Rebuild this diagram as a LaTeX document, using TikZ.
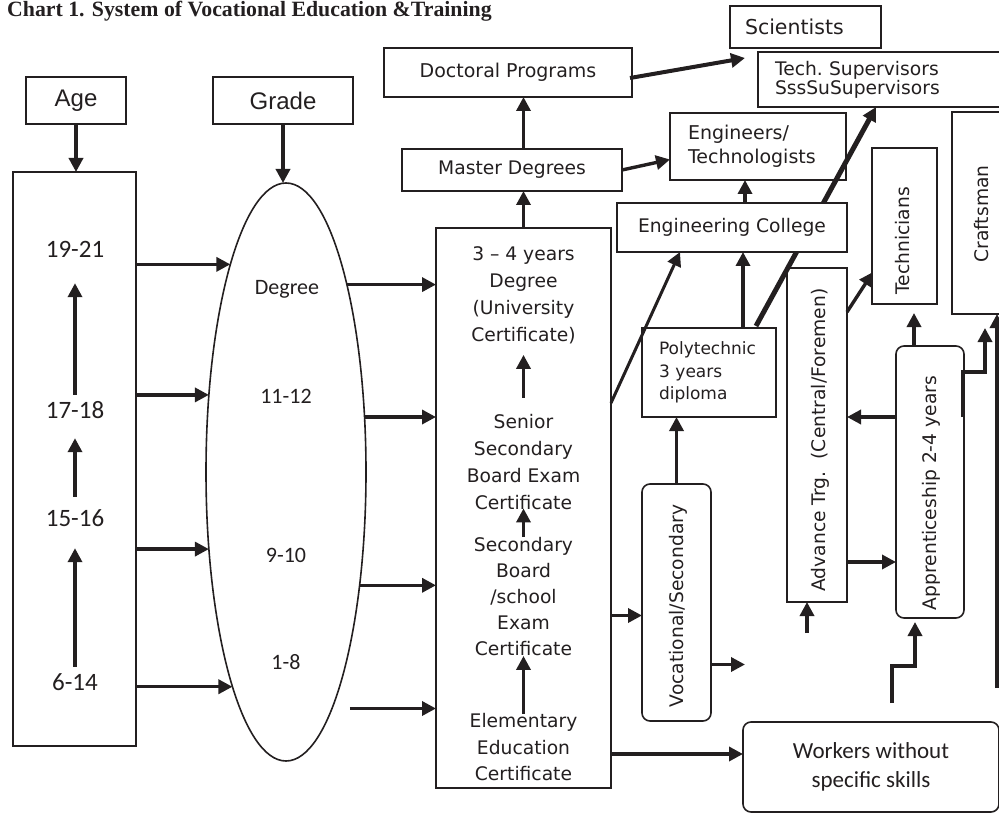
\documentclass[tikz,border=0pt]{standalone}
\usepackage{fontspec}
\setmainfont{DejaVu Sans}
\newfontfamily\calfont{Carlito}
\newfontfamily\arialfont{Liberation Sans}
\newfontfamily\timesfont{Liberation Serif}
\usetikzlibrary{arrows.meta,
  calc,
  positioning,
  backgrounds,
  shapes.geometric
}
\definecolor{ink}{HTML}{231F20}

\begin{document}
\begin{tikzpicture}[x=1pt,y=-1pt,
  box/.style={draw=ink,line width=1.6pt,inner sep=0pt,outer sep=0pt,text=ink,
    align=center,font=\fontsize{18.7}{27}\selectfont},
  soft/.style={box,rounded corners=8pt},
  txt/.style={text=ink,inner sep=0pt,align=center,font=\fontsize{18.7}{27}\selectfont},
  agelbl/.style={text=ink,inner sep=0pt,font=\calfont\fontsize{25}{25}\selectfont,
    text height=16pt,text depth=0pt},
  grdlbl/.style={text=ink,inner sep=0pt,font=\calfont\fontsize{22}{22}\selectfont},
  arr/.style={draw=ink,line width=3.4pt,-{Triangle[length=14pt,width=14pt]}}
]
  \clip (0,0) rectangle (999,813);

  \node[anchor=base west,inner sep=0pt,text=ink,
    font=\timesfont\bfseries\fontsize{21.8}{22}\selectfont] (title) at (7,17)
    {Chart 1. System of Vocational Education \&Training};

  % left side: age and grade
  \node[box,font=\arialfont\fontsize{24}{24}\selectfont,
    minimum width=100pt,minimum height=47pt] (age) at (76,100.5) {Age};
  \node[box,font=\arialfont\fontsize{24}{24}\selectfont,
    minimum width=140pt,minimum height=47pt] (grade) at (283,100.5) {Grade};
  \node[box,minimum width=123pt,minimum height=574pt] (agecol) at (74.5,459) {};
  \node[box,ellipse,minimum width=160pt,minimum height=578pt] (grd) at (286,472) {};

  \node[agelbl] (a1921) at (75,250) {19-21};
  \node[agelbl] (a1718) at (75,410) {17-18};
  \node[agelbl] (a1516) at (75,518) {15-16};
  \node[agelbl] (a614) at (75,682) {6-14};

  \node[grdlbl] (gDeg) at (287,289) {Degree};
  \node[grdlbl] (g1112) at (286,396) {11-12};
  \node[grdlbl] (g910) at (286,555) {9-10};
  \node[grdlbl] (g18) at (286,662) {1-8};

  % certificates
  \node[box,minimum width=175pt,minimum height=560pt] (cert) at (523.5,508) {};
  \node[txt] (certA) at (523.5,295) {3 -- 4 years\\Degree\\(University\\Certificate)};
  \node[txt] (certB) at (523.5,462.5) {Senior\\Secondary\\Board Exam\\Certificate};
  \node[txt,font=\fontsize{18.7}{26}\selectfont] (certC) at (523.5,596.5)
    {Secondary\\Board\\/school\\Exam\\Certificate};
  \node[txt,font=\fontsize{18.7}{26.5}\selectfont] (certD) at (523.5,747.5)
    {Elementary\\Education\\Certificate};

  % upper boxes
  \node[box,minimum width=220pt,minimum height=42pt] (master) at (512,170) {Master Degrees};
  \node[box,minimum width=248pt,minimum height=49pt,font=\fontsize{19}{19}\selectfont]
    (doc) at (508,72.5) {Doctoral Programs};
  \node[box,minimum height=42pt,text width=121pt,inner xsep=15pt,align=left,
    font=\fontsize{20.5}{20}\selectfont] (sci) at (805.5,27) {Scientists};
  \node[box,minimum height=55pt,text width=218pt,inner xsep=17pt,align=left,
    font=\fontsize{18.7}{19}\selectfont] (techsup) at (884,79.5)
    {Tech.\ Supervisors\\SssSuSupervisors};
  \node[box,minimum height=67pt,text width=140pt,inner xsep=18pt,align=left,
    font=\fontsize{19}{24}\selectfont] (eng) at (758,146.5) {Engineers/\\Technologists};
  \node[box,fill=white,minimum width=230pt,minimum height=49pt] (engcol) at (732,227.5)
    {Engineering College};
  \node[box,minimum height=89pt,text width=100pt,inner xsep=17pt,align=left,
    font=\fontsize{17}{22.5}\selectfont] (poly) at (709,372.5) {Polytechnic\\3 years\\diploma};

  % vertical boxes
  \node[box,minimum width=63pt,minimum height=202pt] (craft) at (983.5,213) {};
  \node[txt,rotate=90] (craftT) at (982,214) {Craftsman};
  \node[box,minimum width=65pt,minimum height=156pt] (techn) at (904.5,226) {};
  \node[txt,rotate=90] (technT) at (903,241) {Technicians};
  \node[box,minimum width=60pt,minimum height=334pt] (adv) at (817,435) {};
  \node[txt,rotate=90] (advT) at (820,440) {Advance Trg.\ \ (Central/Foremen)};
  \node[soft,minimum width=68pt,minimum height=272pt] (appr) at (930,482) {};
  \node[txt,rotate=90] (apprT) at (931,493) {Apprenticeship 2-4 years};
  \node[soft,minimum width=69pt,minimum height=237pt] (voc) at (676.5,602.5) {};
  \node[txt,rotate=90] (vocT) at (678,606) {Vocational/Secondary};
  \node[soft,minimum width=256pt,minimum height=90pt,
    font=\calfont\fontsize{23}{29}\selectfont] (work) at (871,767)
    {Workers without\\specific skills};

  % age and grade arrows
  \draw[arr] (age.south) -- (age.south |- agecol.north);
  \draw[arr] (grade.south) -- (grade.south |- grd.north);
  \draw[arr,shorten <=7pt,shorten >=25pt] (a1718.north) -- (a1921.south);
  \draw[arr,shorten <=13pt,shorten >=20pt] (a1516.north) -- (a1718.south);
  \draw[arr,shorten <=7pt,shorten >=22pt] (a614.north) -- (a1516.south);
  \draw[arr] (agecol.east |- grd.105) -- (grd.105);
  \draw[arr] (agecol.east |- grd.135) -- (grd.135);
  \draw[arr] (agecol.east |- grd.225) -- (grd.225);
  \draw[arr] (agecol.east |- grd.256) -- (grd.256);
  \draw[arr] (grd.72) -- (grd.72 -| cert.west);
  \draw[arr] (grd.35) -- (grd.35 -| cert.west);
  \draw[arr] (grd.303) -- (grd.303 -| cert.west);
  \draw[arr] ([xshift=18pt]grd.281) -- (grd.281 -| cert.west);

  % inside the certificate column
  \draw[arr,shorten <=17pt,shorten >=11pt] (certB.north) -- (certA.south);
  \draw[arr,shorten >=-2pt] (certC.north) -- (certB.south);
  \draw[arr] (certD.north) -- (certC.south);

  % degrees
  \draw[arr] (cert.north) -- (cert.north |- master.south);
  \draw[arr] (cert.north |- master.north) -- (cert.north |- doc.south);
  \draw[arr,line width=4pt] ($(doc.east)+(-2,5.5)$) -- ($(sci.south west)+(15,10)$);
  \draw[arr] (master.east) -- ($(eng.west)+(0,13)$);
  \draw[arr] ($(engcol.north)+(13,0)$) -- ($(eng.south)+(-13,0)$);
  \draw[arr] ($(poly.north)+(34,0)$) -- ($(engcol.south)+(11,0)$);
  \draw[arr,line width=3pt] ($(cert.north east)!0.3125!(cert.south east)$)
    -- ($(engcol.south west)+(63,0)$);
  \begin{scope}[on background layer]
    \draw[arr,line width=5pt] ($(poly.north east)+(-20,-2)$) -- ($(techsup.south west)+(118,0)$);
  \end{scope}

  % vocational and workers
  \draw[arr] (voc.north) -- (voc.north |- poly.south);
  \coordinate (vocIn) at ($(voc.west)+(0,13)$);
  \draw[arr] (cert.east |- vocIn) -- (vocIn);
  \coordinate (vocOut) at ($(voc.east)+(34,62)$);
  \draw[arr] (vocOut -| voc.east) -- (vocOut);
  \coordinate (workIn) at ($(work.west)+(0,-13)$);
  \draw[arr] (cert.east |- workIn) -- (workIn);

  % training
  \draw[arr] ($(adv.north east)+(0,44)$) -- ($(techn.south west)+(1,-32)$);
  \draw[arr] ($(appr.north)+(-16,0)$) -- ($(techn.south)+(9.5,9)$);
  \coordinate (apprL) at ($(appr.north west)+(0,71)$);
  \draw[arr] (apprL) -- (apprL -| adv.east);
  \coordinate (advOut) at ($(adv.east)+(0,127)$);
  \draw[arr] (advOut) -- (advOut -| appr.west);
  \coordinate (advUp) at ($(adv.south)+(-10,31)$);
  \draw[arr] (advUp) -- (advUp |- adv.south);
  \draw[arr] ($(appr.north east)+(-1,71)$) -- ++(0,-45) -- ++(22,0) -- ++(0,-44);
  \coordinate (apprUp) at ($(work.north west)+(149,-19)$);
  \draw[arr] (apprUp) -- ++(0,-37) -- ++(23,0) -- ++(0,-44);
  \coordinate (craftUp) at ($(work.north east)+(-2,-34)$);
  \draw[arr] (craftUp) -- (craftUp |- craft.south);
\end{tikzpicture}
\end{document}
